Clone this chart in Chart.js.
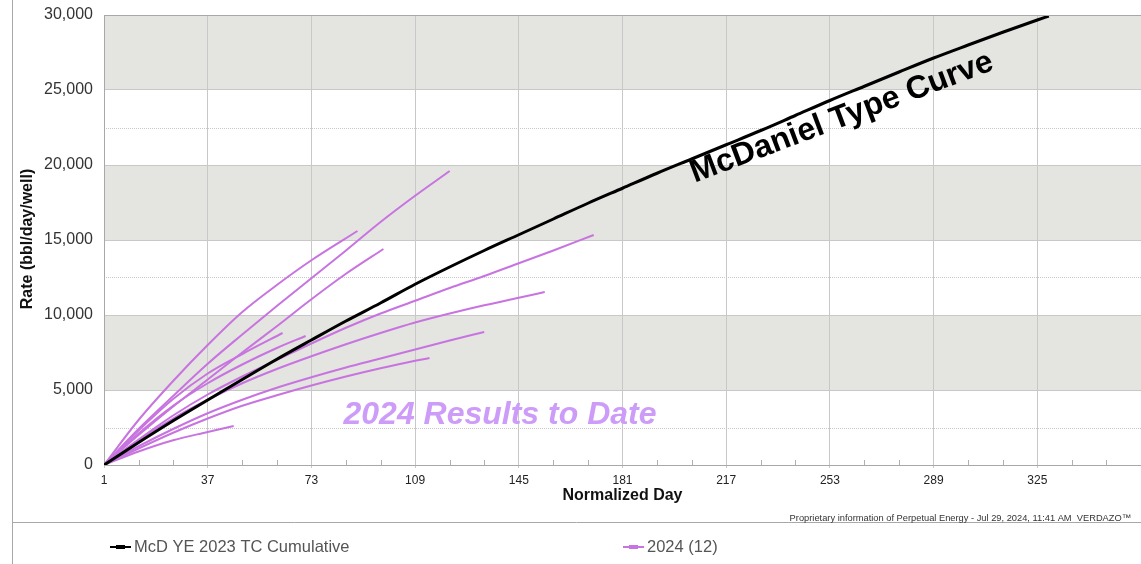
<!DOCTYPE html>
<html>
<head>
<meta charset="utf-8">
<script src="https://cdn.jsdelivr.net/npm/chart.js@4.4.1/dist/chart.umd.min.js"></script>
<style>
  body { margin: 0; background: #fff; }
  #wrap { width: 1141px; height: 564px; position: relative; }
</style>
</head>
<body>
<div id="wrap"><canvas id="tc-chart"></canvas></div>
<script>
// normalized day grid (every 12 days) used by every series
var dayGrid = [1, 13, 25, 37, 49, 61, 73, 85, 97, 109, 121, 133, 145, 157, 169, 181, 193, 205, 217, 229, 241, 253, 265, 277, 289, 301, 313, 325];
var dayTicks = [1, 37, 73, 109, 145, 181, 217, 253, 289, 325];

// McDaniel type curve (cumulative)
var tcValues = [0, 1500, 2950, 4333, 5700, 7050, 8333, 9600, 10800, 12050, 13200, 14300, 15350, 16400, 17450, 18450, 19450, 20400, 21350, 22300, 23300, 24300, 25250, 26200, 27133, 28000, 28850, 29667];
var tcEndDay = 329;
var tcEndValue = 29930;

// 2024 wells, values on dayGrid, then the last point at its end day
var well1 = [0, 2400, 4600, 6750, 8700, 10600, 12450, 14300, 16200, 17950];
var well2 = [0, 3000, 5600, 8000, 10200, 12000, 13650];
var well3 = [0, 2000, 3900, 5700, 7500, 9250, 11050, 12750];
var well4 = [0, 1700, 3300, 4700, 5900, 7000, 8100, 9150, 10100, 10950, 11800, 12600, 13450, 14300];
var well5 = [0, 1650, 3100, 4350, 5450, 6400, 7250, 8050, 8800, 9500, 10100, 10650, 11150];
var well6 = [0, 1250, 2400, 3450, 4350, 5150, 5850, 6500, 7100, 7700, 8300];
var well7 = [0, 1100, 2150, 3100, 3950, 4650, 5300, 5900, 6450, 6950];
var well8 = [0, 2300, 4400, 6100, 7400];
var well9 = [0, 2100, 3950, 5450, 6700, 7800];
var well10 = [0, 900, 1650, 2200];
var wellEndDays = [121, 89, 98, 171, 154, 133, 114, 63, 71, 46];
var wellEndValues = [19600, 15600, 14400, 15333, 11533, 8867, 7133, 8800, 8600, 2600];

var tcLabel = "McD YE 2023 TC Cumulative";
var wellLabel = "2024 (12)";

var purple = "#c874e0";
var fontFam = "'Liberation Sans', Arial, sans-serif";

function toPoints(vals, endDay, endVal) {
  var pts = vals.map(function (v, i) { return { x: dayGrid[i], y: v }; });
  pts.push({ x: endDay, y: endVal });
  return pts;
}

var datasets = [{
  label: tcLabel,
  data: toPoints(tcValues, tcEndDay, tcEndValue),
  borderColor: "#000",
  borderWidth: 3,
  pointRadius: 0,
  cubicInterpolationMode: 'monotone'
}];

var wells = [well1, well2, well3, well4, well5, well6, well7, well8, well9, well10];
wells.forEach(function (w, i) {
  datasets.push({
    label: wellLabel,
    data: toPoints(w, wellEndDays[i], wellEndValues[i]),
    borderColor: purple,
    borderWidth: 2,
    pointRadius: 0,
    cubicInterpolationMode: 'monotone'
  });
});

var extras = {
  id: 'extras',
  beforeDraw: function (chart) {
    var c = chart.ctx, a = chart.chartArea, y = chart.scales.y;
    c.save();
    // grey bands
    c.fillStyle = "#e4e4e0";
    [[5000, 10000], [15000, 20000], [25000, 30000]].forEach(function (b) {
      var y1 = y.getPixelForValue(b[1]), y0 = y.getPixelForValue(b[0]);
      c.fillRect(a.left, y1, a.right - a.left, y0 - y1);
    });
    // dotted half lines
    c.strokeStyle = "#c8c8c8";
    c.lineWidth = 1;
    c.setLineDash([1, 1]);
    [2500, 12500, 22500].forEach(function (v) {
      var py = Math.round(y.getPixelForValue(v)) + 0.5;
      c.beginPath(); c.moveTo(a.left, py); c.lineTo(a.right, py); c.stroke();
    });
    c.restore();
  },
  afterDraw: function (chart) {
    var c = chart.ctx, a = chart.chartArea, x = chart.scales.x;
    c.save();
    // minor ticks
    c.strokeStyle = "#b0b0b0";
    c.lineWidth = 1;
    dayGrid.concat([337, 349]).forEach(function (d) {
      if (dayTicks.indexOf(d) >= 0) return;
      var px = Math.round(x.getPixelForValue(d)) + 0.5;
      c.beginPath(); c.moveTo(px, a.bottom - 5); c.lineTo(px, a.bottom); c.stroke();
    });
    // top border
    c.strokeStyle = "#a8a8a8";
    c.beginPath(); c.moveTo(a.left, a.top + 0.5); c.lineTo(a.right, a.top + 0.5); c.stroke();
    // outer frame
    c.beginPath(); c.moveTo(12.5, 0); c.lineTo(12.5, 564); c.stroke();
    c.beginPath(); c.moveTo(12, 522.5); c.lineTo(1141, 522.5); c.stroke();

    // axis titles
    c.fillStyle = "#111";
    c.font = "bold 16px " + fontFam;
    c.textAlign = "center";
    c.textBaseline = "middle";
    c.fillText("Normalized Day", (a.left + a.right) / 2, 496);
    c.save();
    c.translate(28, 239);
    c.rotate(-Math.PI / 2);
    c.font = "bold 16px " + fontFam;
    c.fillText("Rate (bbl/day/well)", 0, 0);
    c.restore();

    // footer
    c.font = "9.3px " + fontFam;
    c.fillStyle = "#333";
    c.textAlign = "right";
    c.fillText("Proprietary information of Perpetual Energy - Jul 29, 2024, 11:41 AM  VERDAZO\u2122", 1131, 518);

    // annotations
    c.save();
    c.translate(845, 126);
    c.rotate(-20.7 * Math.PI / 180);
    c.font = "bold 32px " + fontFam;
    c.fillStyle = "#000";
    c.textAlign = "center";
    c.textBaseline = "alphabetic";
    c.fillText("McDaniel Type Curve", 0, 0);
    c.restore();

    c.font = "italic bold 32px " + fontFam;
    c.fillStyle = "#cd9cf8";
    c.textAlign = "center";
    c.textBaseline = "alphabetic";
    c.fillText("2024 Results to Date", 500, 424);

    // legend
    var items = [
      { ds: chart.data.datasets[0], x: 110 },
      { ds: chart.data.datasets[1], x: 623 }
    ];
    items.forEach(function (it) {
      var ly = 547;
      c.strokeStyle = it.ds.borderColor;
      c.fillStyle = it.ds.borderColor;
      c.lineWidth = 2;
      c.beginPath(); c.moveTo(it.x, ly); c.lineTo(it.x + 21, ly); c.stroke();
      c.fillRect(it.x + 6, ly - 2, 9, 4);
      c.font = "16.5px " + fontFam;
      c.fillStyle = "#555";
      c.textAlign = "left";
      c.textBaseline = "middle";
      c.fillText(it.ds.label, it.x + 24, ly);
    });
    c.restore();
  }
};

var chart = new Chart(document.getElementById("tc-chart"), {
  type: 'line',
  data: { datasets: datasets },
  options: {
    responsive: true,
    maintainAspectRatio: false,
    animation: false,
    layout: { padding: { top: 15, left: 0, right: 0, bottom: 0 } },
    plugins: {
      legend: { display: false },
      tooltip: { enabled: false }
    },
    scales: {
      x: {
        type: 'linear',
        min: 1,
        max: 361,
        afterBuildTicks: function (s) {
          s.ticks = dayTicks.map(function (v) { return { value: v }; });
        },
        afterFit: function (s) { s.height = 99; s.paddingLeft = 0; s.paddingRight = 0; },
        grid: { color: "#c8c8c8", tickLength: 3 },
        border: { color: "#a8a8a8" },
        ticks: {
          padding: 5,
          maxRotation: 0,
          color: "#222",
          font: { family: fontFam, size: 12 }
        }
      },
      y: {
        min: 0,
        max: 30000,
        afterFit: function (s) { s.width = 104; s.paddingTop = 0; s.paddingBottom = 0; },
        grid: { color: "#c8c8c8", drawTicks: false },
        border: { color: "#a8a8a8" },
        ticks: {
          stepSize: 5000,
          padding: 11,
          color: "#333",
          font: { family: fontFam, size: 16 }
        }
      }
    }
  },
  plugins: [extras]
});
</script>
</body>
</html>
